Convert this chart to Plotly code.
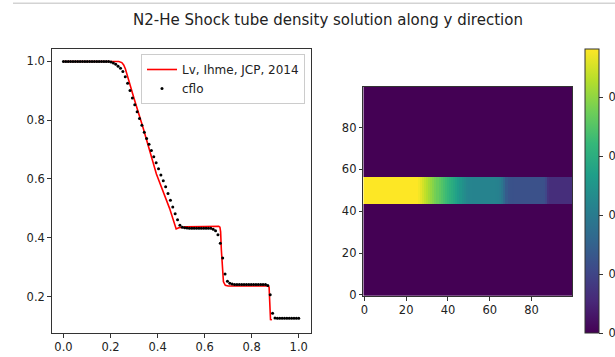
import numpy as np
import plotly.graph_objects as go

W, H = 615, 357

title_text = "N2-He Shock tube density solution along y direction"

# Reference solution (Lv, Ihme, JCP, 2014)
ref_x = [0.0, 0.20, 0.235, 0.248, 0.256, 0.263, 0.270, 0.282, 0.300, 0.338, 0.395, 0.451,
         0.479, 0.490, 0.520, 0.600, 0.660, 0.665, 0.668, 0.671, 0.675, 0.680, 0.688,
         0.700, 0.800, 0.870, 0.874, 0.876, 0.878, 0.880, 0.886]
ref_rho = [1.0, 1.0, 1.0, 0.996, 0.988, 0.975, 0.955, 0.922, 0.874, 0.775, 0.617, 0.500,
           0.430, 0.434, 0.437, 0.438, 0.439, 0.436, 0.420, 0.360, 0.290, 0.250, 0.238,
           0.236, 0.236, 0.236, 0.232, 0.200, 0.150, 0.122, 0.121]

# cflo solution (100 cells)
cflo_x = np.linspace(0.0, 1.0, 100)
cflo_rho = [
    1.0, 1.0, 1.0, 1.0, 1.0, 1.0, 1.0, 1.0, 1.0, 1.0,
    1.0, 1.0, 1.0, 1.0, 1.0, 1.0, 1.0, 1.0, 1.0, 1.0,
    0.998, 0.995, 0.990, 0.984, 0.977, 0.966, 0.948, 0.926, 0.901, 0.876,
    0.853, 0.829, 0.806, 0.783, 0.759, 0.738, 0.718, 0.697, 0.676, 0.655,
    0.635, 0.614, 0.594, 0.574, 0.551, 0.528, 0.505, 0.482, 0.461, 0.443,
    0.436, 0.434, 0.433, 0.432, 0.432, 0.432, 0.432, 0.432, 0.432, 0.432,
    0.432, 0.432, 0.432, 0.429, 0.424, 0.410, 0.381, 0.331, 0.277, 0.252,
    0.245, 0.243, 0.241, 0.241, 0.241, 0.241, 0.241, 0.241, 0.241, 0.241,
    0.241, 0.241, 0.241, 0.241, 0.241, 0.241, 0.238, 0.206, 0.143, 0.127,
    0.126, 0.126, 0.126, 0.126, 0.126, 0.126, 0.126, 0.126, 0.126, 0.126,
]

# 2D field: band rows carrying the cflo profile
grid_n = 100
band_rows = list(range(44, 57))
heat_max = 0.963

left_xticks = [0.0, 0.2, 0.4, 0.6, 0.8, 1.0]
left_yticks = [0.2, 0.4, 0.6, 0.8, 1.0]
img_ticks = [0, 20, 40, 60, 80]
cbar_ticks = [0.0, 0.2, 0.4, 0.6, 0.8]

z = [[0.0] * grid_n for _ in range(grid_n)]
for r in band_rows:
    z[r] = list(cflo_rho)

FONT = "DejaVu Sans"
TICK_SIZE = 11.5

fig = go.Figure()
fig.add_trace(go.Scatter(x=ref_x, y=ref_rho, mode="lines", name="Lv, Ihme, JCP, 2014",
                         line=dict(color="red", width=1.6), xaxis="x", yaxis="y"))
fig.add_trace(go.Scatter(x=cflo_x, y=cflo_rho, mode="markers", name="cflo",
                         marker=dict(color="black", size=3), xaxis="x", yaxis="y"))
fig.add_trace(go.Heatmap(z=z, x=list(range(grid_n)), y=list(range(grid_n)),
                         colorscale="Viridis", zmin=0.0, zmax=heat_max, showlegend=False,
                         xaxis="x2", yaxis="y2",
                         colorbar=dict(thickness=14, thicknessmode="pixels",
                                       len=(333.3 - 49.3) / H, lenmode="fraction",
                                       x=585 / W, xanchor="left", xpad=0,
                                       y=(H - 333.3) / H, yanchor="bottom", ypad=0,
                                       outlinewidth=1, outlinecolor="#333",
                                       ticks="outside", ticklen=3.5, tickcolor="#333",
                                       tickvals=cbar_ticks,
                                       ticktext=[f" {v:.1f}" for v in cbar_ticks],
                                       tickfont=dict(family=FONT, size=TICK_SIZE, color="#222"))))

axis_common = dict(showgrid=False, zeroline=False, showline=True, mirror=True,
                   linecolor="#333", linewidth=1, ticks="outside", ticklen=3.5,
                   tickcolor="#333", tickfont=dict(family=FONT, size=TICK_SIZE, color="#222"))

fig.update_layout(
    width=W, height=H,
    margin=dict(l=0, r=0, t=0, b=0, autoexpand=False),
    paper_bgcolor="white", plot_bgcolor="white",
    xaxis=dict(domain=[51.7 / W, 310.5 / W], range=[-0.05, 1.05], anchor="y",
               tickvals=left_xticks, ticktext=[f"{v:.1f}" for v in left_xticks], **axis_common),
    yaxis=dict(domain=[(H - 333.0) / H, (H - 48.5) / H], range=[0.076, 1.044], anchor="x",
               tickvals=left_yticks, ticktext=[f"{v:.1f}" for v in left_yticks], **axis_common),
    xaxis2=dict(domain=[363.3 / W, 572.3 / W], range=[-0.5, 99.5], anchor="y2",
                tickvals=img_ticks, **axis_common),
    yaxis2=dict(domain=[(H - 296.0) / H, (H - 86.7) / H], range=[-0.5, 99.5], anchor="x2",
                tickvals=img_ticks, **axis_common),
    showlegend=True,
    legend=dict(x=305 / W, xanchor="right", y=(H - 54) / H, yanchor="top",
                bgcolor="rgba(255,255,255,0.8)", bordercolor="#cccccc", borderwidth=1,
                font=dict(family=FONT, size=12, color="#222"), tracegroupgap=0),
    annotations=[dict(text=title_text, x=328 / W, y=(H - 20) / H, xref="paper", yref="paper",
                      xanchor="center", yanchor="middle", showarrow=False,
                      font=dict(family=FONT, size=15, color="#222"))],
    shapes=[dict(type="line", xref="paper", yref="paper", x0=13 / W, x1=1.0,
                 y0=(H - 3.3) / H, y1=(H - 3.3) / H, line=dict(color="#d3d3d3", width=1.5))],
)

fig.write_html("out.html", config={"displayModeBar": False},
               post_script="document.body.style.margin='0';document.body.style.overflow='hidden';")
